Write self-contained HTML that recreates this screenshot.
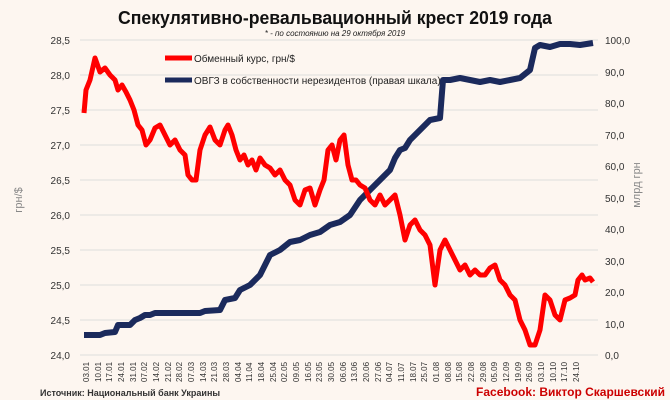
<!DOCTYPE html>
<html><head><meta charset="utf-8"><style>
body{margin:0;background:#fdf6f0;}
svg{display:block;font-family:"Liberation Sans",sans-serif;}
</style></head><body>
<svg width="670" height="400" viewBox="0 0 670 400">
<rect width="670" height="400" fill="#fdf6f0"/>
<text x="335" y="24" text-anchor="middle" font-size="18" font-weight="bold" fill="#111" textLength="434" lengthAdjust="spacingAndGlyphs">Спекулятивно-ревальвационный крест 2019 года</text>
<text x="335" y="36" text-anchor="middle" font-size="8" font-style="italic" fill="#222">* - по состоянию на 29 октября 2019</text>
<g stroke="#ddd" stroke-width="1">
<line x1="80" x2="598" y1="40" y2="40"/><line x1="80" x2="598" y1="75" y2="75"/><line x1="80" x2="598" y1="110" y2="110"/><line x1="80" x2="598" y1="145" y2="145"/><line x1="80" x2="598" y1="180" y2="180"/><line x1="80" x2="598" y1="215" y2="215"/><line x1="80" x2="598" y1="250" y2="250"/><line x1="80" x2="598" y1="285" y2="285"/><line x1="80" x2="598" y1="320" y2="320"/><line x1="80" x2="598" y1="355" y2="355"/>
</g>
<g font-size="10" fill="#333" text-anchor="end">
<text x="70" y="44">28,5</text><text x="70" y="79">28,0</text><text x="70" y="114">27,5</text><text x="70" y="149">27,0</text><text x="70" y="184">26,5</text><text x="70" y="219">26,0</text><text x="70" y="254">25,5</text><text x="70" y="289">25,0</text><text x="70" y="324">24,5</text><text x="70" y="359">24,0</text>
</g>
<g font-size="10" fill="#333">
<text x="605" y="44">100,0</text><text x="605" y="76">90,0</text><text x="605" y="107">80,0</text><text x="605" y="139">70,0</text><text x="605" y="170">60,0</text><text x="605" y="202">50,0</text><text x="605" y="233">40,0</text><text x="605" y="265">30,0</text><text x="605" y="296">20,0</text><text x="605" y="328">10,0</text><text x="605" y="359">0,0</text>
</g>
<text transform="translate(22,200) rotate(-90)" text-anchor="middle" font-size="11" fill="#888">грн/$</text>
<text transform="translate(640,185) rotate(-90)" text-anchor="middle" font-size="11" fill="#888">млрд грн</text>
<polyline fill="none" stroke="#1b2a5c" stroke-width="6" stroke-linejoin="round" points="84,335 100,335 105,333 115,332 118,325 130,325 135,320 140,318 145,315 150,315 155,313 200,313 205,311 220,310 225,300 235,298 240,290 250,285 260,275 270,255 280,250 290,242 300,240 310,235 320,232 330,225 340,222 350,215 360,200 365,195 375,185 385,175 390,170 395,158 400,150 405,148 410,140 420,130 425,125 430,120 440,118 443,80 450,80 460,78 470,80 480,82 490,80 500,82 510,80 520,78 530,70 535,48 540,45 550,47 560,44 570,44 580,45 593,43"/>
<polyline fill="none" stroke="#f00" stroke-width="5" stroke-linejoin="round" points="84,113 86,90 90,80 95,58 100,72 105,68 110,75 115,80 118,90 122,85 126,92 130,100 134,110 138,125 142,130 146,145 150,140 155,128 160,125 165,135 170,145 175,140 180,150 185,155 188,175 192,180 196,180 200,150 205,135 210,127 215,140 220,145 225,130 228,125 232,135 236,150 240,160 244,155 248,165 252,160 256,170 260,158 265,165 270,168 275,175 280,170 285,180 290,185 295,200 300,205 305,190 310,188 315,205 320,190 324,180 328,150 332,145 336,160 340,140 344,135 348,165 352,180 356,180 360,185 365,188 370,200 375,205 380,195 385,205 390,200 395,195 400,215 405,240 410,225 415,220 420,230 425,235 430,245 435,285 440,250 445,240 450,250 455,260 460,270 465,265 470,275 475,270 480,275 485,275 490,268 495,265 500,280 505,285 510,295 515,300 520,320 525,330 530,345 535,345 540,330 545,295 550,300 555,315 560,320 565,300 570,298 575,295 578,280 582,275 585,280 590,278 593,282"/>
<line x1="165" x2="192" y1="58" y2="58" stroke="#f00" stroke-width="5"/>
<text x="194" y="62" font-size="10" fill="#222">Обменный курс, грн/$</text>
<line x1="165" x2="192" y1="80" y2="80" stroke="#1b2a5c" stroke-width="5"/>
<text x="194" y="84" font-size="10" fill="#222">ОВГЗ в собственности  нерезидентов (правая шкала)</text>
<text x="40" y="396" font-size="9" font-weight="bold" fill="#333">Источник: Национальный банк Украины</text>
<text x="665" y="396" text-anchor="end" font-size="12" font-weight="bold" fill="#c00">Facebook: Виктор Скаршевский</text>
<g font-size="8" fill="#333">
<text transform="translate(89,382) rotate(-90)">03.01</text><text transform="translate(101,382) rotate(-90)">10.01</text><text transform="translate(112,382) rotate(-90)">17.01</text><text transform="translate(124,382) rotate(-90)">24.01</text><text transform="translate(136,382) rotate(-90)">31.01</text><text transform="translate(147,382) rotate(-90)">07.02</text><text transform="translate(159,382) rotate(-90)">14.02</text><text transform="translate(171,382) rotate(-90)">21.02</text><text transform="translate(182,382) rotate(-90)">28.02</text><text transform="translate(194,382) rotate(-90)">07.03</text><text transform="translate(206,382) rotate(-90)">14.03</text><text transform="translate(217,382) rotate(-90)">21.03</text><text transform="translate(229,382) rotate(-90)">28.03</text><text transform="translate(241,382) rotate(-90)">04.04</text><text transform="translate(252,382) rotate(-90)">11.04</text><text transform="translate(264,382) rotate(-90)">18.04</text><text transform="translate(276,382) rotate(-90)">25.04</text><text transform="translate(287,382) rotate(-90)">02.05</text><text transform="translate(299,382) rotate(-90)">09.05</text><text transform="translate(311,382) rotate(-90)">16.05</text><text transform="translate(322,382) rotate(-90)">23.05</text><text transform="translate(334,382) rotate(-90)">30.05</text><text transform="translate(346,382) rotate(-90)">06.06</text><text transform="translate(357,382) rotate(-90)">13.06</text><text transform="translate(369,382) rotate(-90)">20.06</text><text transform="translate(381,382) rotate(-90)">27.06</text><text transform="translate(392,382) rotate(-90)">04.07</text><text transform="translate(404,382) rotate(-90)">11.07</text><text transform="translate(416,382) rotate(-90)">18.07</text><text transform="translate(427,382) rotate(-90)">25.07</text><text transform="translate(439,382) rotate(-90)">01.08</text><text transform="translate(451,382) rotate(-90)">08.08</text><text transform="translate(462,382) rotate(-90)">15.08</text><text transform="translate(474,382) rotate(-90)">22.08</text><text transform="translate(486,382) rotate(-90)">29.08</text><text transform="translate(497,382) rotate(-90)">05.09</text><text transform="translate(509,382) rotate(-90)">12.09</text><text transform="translate(521,382) rotate(-90)">19.09</text><text transform="translate(532,382) rotate(-90)">26.09</text><text transform="translate(544,382) rotate(-90)">03.10</text><text transform="translate(556,382) rotate(-90)">10.10</text><text transform="translate(567,382) rotate(-90)">17.10</text><text transform="translate(579,382) rotate(-90)">24.10</text>
</g>
</svg>
</body></html>
